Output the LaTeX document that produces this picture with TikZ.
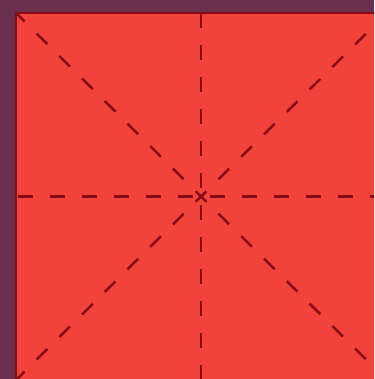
\documentclass[tikz,border=0pt]{standalone}
\definecolor{bgpurple}{HTML}{6A2E4E}
\definecolor{sqred}{HTML}{F1433A}
\definecolor{dashred}{HTML}{870A1A}
\definecolor{edgered}{HTML}{8A0A14}
\begin{document}
\begin{tikzpicture}[x=1pt,y=-1pt,
  foldline/.style={draw=dashred,line width=2.5pt,dash pattern=on 15pt off 17pt},
  straightfold/.style={foldline,dash phase=23.5pt},
  diagfold/.style={foldline,dash phase=7.5pt}]
\useasboundingbox (0,0) rectangle (374,379);
\fill[bgpurple] (0,0) rectangle (374,379);
\begin{scope}
\clip (0,0) rectangle (374,379);
\coordinate (tl) at (16,13);
\coordinate (tr) at (387,13);
\coordinate (bl) at (16,380);
\coordinate (br) at (387,380);
\coordinate (c) at (201,196.5);
\coordinate (tm) at (201,13);
\coordinate (bm) at (201,380);
\coordinate (lm) at (16,196.5);
\coordinate (rm) at (387,196.5);
\filldraw[fill=sqred,draw=edgered,line width=2pt] (tl) rectangle (br);
\draw[diagfold] (c) -- (tl);
\draw[diagfold] (c) -- (tr);
\draw[diagfold] (c) -- (bl);
\draw[diagfold] (c) -- (br);
\draw[straightfold] (c) -- (tm);
\draw[straightfold] (c) -- (bm);
\draw[straightfold] (c) -- (lm);
\draw[straightfold] (c) -- (rm);
\end{scope}
\end{tikzpicture}
\end{document}
